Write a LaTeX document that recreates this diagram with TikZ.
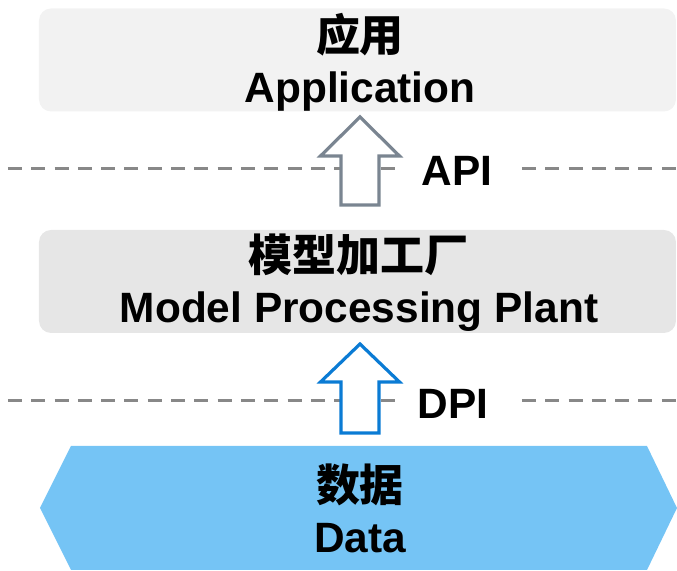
\documentclass[tikz,border=0pt]{standalone}
\usepackage{fontspec}
\setmainfont{Liberation Sans}
\newfontfamily\cjk{Noto Sans CJK SC}
\usetikzlibrary{positioning}
\definecolor{appfill}{HTML}{F2F2F2}
\definecolor{plantfill}{HTML}{E6E6E6}
\definecolor{datafill}{HTML}{75C4F5}
\definecolor{apigray}{HTML}{7A8591}
\definecolor{dpiblue}{HTML}{0A7BD4}
\definecolor{sepgray}{HTML}{888888}

\tikzset{
	layer/.style={fill=#1, rounded corners=6pt, minimum width=318.5pt,
		minimum height=51.5pt, align=center},
	bigtext/.style={font=\bfseries\fontsize{21.2}{25.5}\selectfont},
	separator/.style={color=sepgray, line width=1.5pt, dash pattern=on 7pt off 4.65pt},
	blockarrow/.style={draw=#1, line width=1.6pt, fill=white, line join=miter}
}

\begin{document}
\begin{tikzpicture}[x=0.5pt, y=-0.5pt]
				\useasboundingbox (0, 0) rectangle (677, 571);
				% separators
				\draw[separator] (8, 169) -- (396, 169);
				\draw[separator] (522, 169) -- (677, 169);
				\draw[separator] (8, 401) -- (396, 401);
				\draw[separator] (522, 401) -- (677, 401);
				% layers
				\node[layer=appfill, bigtext] (app) at (357.5, 60) {};
				\node[layer=plantfill, bigtext] (plant) at (357.5, 281.5) {};
				\fill[datafill] (40, 508) -- (71, 446) -- (647, 446) -- (677, 508) -- (647, 570) -- (71, 570) -- cycle;
				\node[bigtext, align=center] (apptext) at (360, 62) {{\cjk\fontsize{22}{25.5}\selectfont 应用}\\Application};
				\node[bigtext, align=center] (planttext) at (359, 283) {{\cjk\fontsize{22}{25.5}\selectfont 模型加工厂}\\Model Processing Plant};
				\node[bigtext, align=center] (data) at (360, 508.5) {{\cjk\fontsize{22}{25.5}\selectfont 数据}\\Data};
				% arrows
				\coordinate (apibase) at (360, 205);
				\coordinate (dpibase) at (360, 433);
				\draw[blockarrow=apigray] (apibase) ++(-19, 0) -- ++(0, -49) -- ++(-20.5, 0) -- ++(39.5, -39)
					-- ++(39.5, 39) -- ++(-20.5, 0) -- ++(0, 49) -- cycle;
				\draw[blockarrow=dpiblue] (dpibase) ++(-19, 0) -- ++(0, -51) -- ++(-20.5, 0) -- ++(39.5, -38)
					-- ++(39.5, 38) -- ++(-20.5, 0) -- ++(0, 51) -- cycle;
				\node[bigtext] (api) at (457, 171) {API};
				\node[bigtext] (dpi) at (453, 404) {DPI};
			\end{tikzpicture}
\end{document}
